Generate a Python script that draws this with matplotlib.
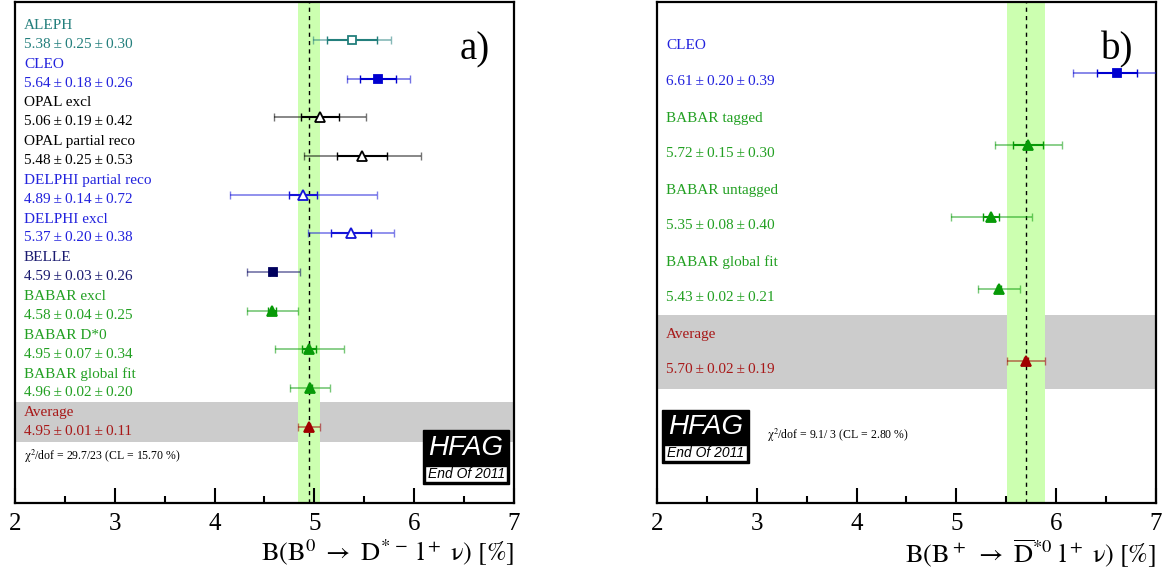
import matplotlib
matplotlib.use('Agg')
import matplotlib.pyplot as plt
from matplotlib.patches import Rectangle

plt.rcParams['font.family'] = ['Liberation Serif', 'DejaVu Serif']
plt.rcParams['mathtext.fontset'] = 'stix'

# panel a) B0 -> D*- l nu
names_a = ['ALEPH', 'CLEO', 'OPAL excl', 'OPAL partial reco', 'DELPHI partial reco',
           'DELPHI excl', 'BELLE', 'BABAR excl', 'BABAR D*0', 'BABAR global fit', 'Average']
vals_a = [5.38, 5.64, 5.06, 5.48, 4.89, 5.37, 4.59, 4.58, 4.95, 4.96, 4.95]
stat_a = [0.25, 0.18, 0.19, 0.25, 0.14, 0.20, 0.03, 0.04, 0.07, 0.02, 0.01]
syst_a = [0.30, 0.26, 0.42, 0.53, 0.72, 0.38, 0.26, 0.25, 0.34, 0.20, 0.11]
col_a = ['#237f7c', '#0000d0', '#000000', '#000000', '#1414d8', '#1414d8', '#00005e',
         '#079a07', '#079a07', '#079a07', '#a00000']
txtcol_a = ['#237f7c', '#2222dd', '#000000', '#000000', '#2222dd', '#2222dd', '#1a1a70',
            '#22a022', '#22a022', '#22a022', '#a81818']
mk_a = ['s', 's', '^', '^', '^', '^', 's', '^', '^', '^', '^']
open_a = [True, False, True, True, True, True, False, False, False, False, False]
chi2_a = r'$\mathrm{\chi}^2$/dof = 29.7/23 (CL = 15.70 %)'

# panel b) B+ -> D*0bar l nu
names_b = ['CLEO', 'BABAR tagged', 'BABAR untagged', 'BABAR global fit', 'Average']
vals_b = [6.61, 5.72, 5.35, 5.43, 5.70]
stat_b = [0.20, 0.15, 0.08, 0.02, 0.02]
syst_b = [0.39, 0.30, 0.40, 0.21, 0.19]
col_b = ['#0000d0', '#079a07', '#079a07', '#079a07', '#a00000']
txtcol_b = ['#2222dd', '#22a022', '#22a022', '#22a022', '#a81818']
mk_b = ['s', '^', '^', '^', '^']
open_b = [False, False, False, False, False]
chi2_b = r'$\mathrm{\chi}^2$/dof = 9.1/ 3 (CL = 2.80 %)'


def panel(ax, names, vals, stat, syst, cols, tcols, mks, opens, chi2, chi2_xy,
          tag, logo_xy, xlabel):
    n = len(names)
    ax.set_xlim(2, 7)
    ax.set_ylim(n + 0.97, -0.98)
    avg = vals[-1]
    tot_avg = (stat[-1]**2 + syst[-1]**2) ** 0.5
    ax.axhspan(n - 1 - 0.64, n - 1 + 0.385, color='#cccccc', lw=0, zorder=0)
    ax.axvspan(avg - tot_avg, avg + tot_avg, color='#ccffb0', lw=0, zorder=1)
    ax.axvline(avg, color='black', lw=1, ls=(0, (3, 3)), zorder=2)
    for i in range(n):
        tot = (stat[i]**2 + syst[i]**2) ** 0.5
        c = cols[i]
        ax.errorbar(vals[i], i, xerr=tot, fmt='none', ecolor=c, elinewidth=1.2,
                    capsize=3, capthick=1, alpha=0.55, zorder=3)
        ax.errorbar(vals[i], i, xerr=stat[i], fmt='none', ecolor=c, elinewidth=1.5,
                    capsize=3, capthick=1, zorder=4)
        ax.plot(vals[i], i, marker=mks[i], ms=6.5 if mks[i] == '^' else 6,
                mfc='white' if opens[i] else c, mec=c, mew=1.3, zorder=5)
        ax.text(2.09, i - 0.37, names[i], color=tcols[i], fontsize=11, va='center')
        ax.text(2.09, i + 0.12,
                '%.2f\u2009\u00b1\u20090.%02d\u2009\u00b1\u20090.%02d'
                % (vals[i], round(stat[i] * 100), round(syst[i] * 100)),
                color=tcols[i], fontsize=11, va='center')
    ax.text(chi2_xy[0], chi2_xy[1], chi2, fontsize=8.5, va='center')
    ax.text(0.922, 0.905, tag, transform=ax.transAxes, fontsize=28,
            ha='center', va='center')
    # HFAG logo
    x0, y0, w, h = logo_xy
    ax.add_patch(Rectangle((x0, y0), w, h, transform=ax.transAxes,
                           facecolor='black', edgecolor='black', zorder=6))
    ax.add_patch(Rectangle((x0 + 0.004, y0 + 0.004), w - 0.008, 0.031,
                           transform=ax.transAxes, facecolor='white',
                           edgecolor='black', lw=1, zorder=7))
    ax.text(x0 + w / 2, y0 + 0.072, 'HFAG', transform=ax.transAxes, color='white',
            fontsize=20, style='italic', family='Liberation Sans',
            ha='center', va='center', zorder=8)
    ax.text(x0 + w / 2, y0 + 0.0195, 'End Of 2011', transform=ax.transAxes,
            color='black', fontsize=10, style='italic', family='Liberation Sans',
            ha='center', va='center', zorder=8)

    ax.set_xticks([2, 3, 4, 5, 6, 7])
    ax.set_xticks([2.5, 3.5, 4.5, 5.5, 6.5], minor=True)
    ax.set_yticks([])
    ax.tick_params(axis='x', which='major', direction='in', length=11, width=1.5,
                   labelsize=18, pad=7)
    ax.tick_params(axis='x', which='minor', direction='in', length=5, width=1.5)
    for s in ax.spines.values():
        s.set_linewidth(1.6)
    ax.set_xlabel(xlabel, fontsize=19, loc='right', labelpad=2)


fig = plt.figure(figsize=(11.68, 5.78), dpi=100)
ax1 = fig.add_axes([0.01284, 0.1298, 0.4272, 0.8668])
ax2 = fig.add_axes([0.5625, 0.1298, 0.4272, 0.8668])

panel(ax1, names_a, vals_a, stat_a, syst_a, col_a, txtcol_a, mk_a, open_a, chi2_a,
      (2.09, 10.77), 'a)', (0.818, 0.038, 0.172, 0.108),
      r'$\mathrm{B(B^0\ \rightarrow\ D^{*\,-}\ l^+\ ν)\ [\%]}$')
panel(ax2, names_b, vals_b, stat_b, syst_b, col_b, txtcol_b, mk_b, open_b, chi2_b,
      (3.10, 5.03), 'b)', (0.010, 0.080, 0.174, 0.106),
      r'$\mathrm{B(B^+\ \rightarrow\ \overline{D}^{*0}\ l^+\ ν)\ [\%]}$')

fig.savefig('out.png', dpi=100)
